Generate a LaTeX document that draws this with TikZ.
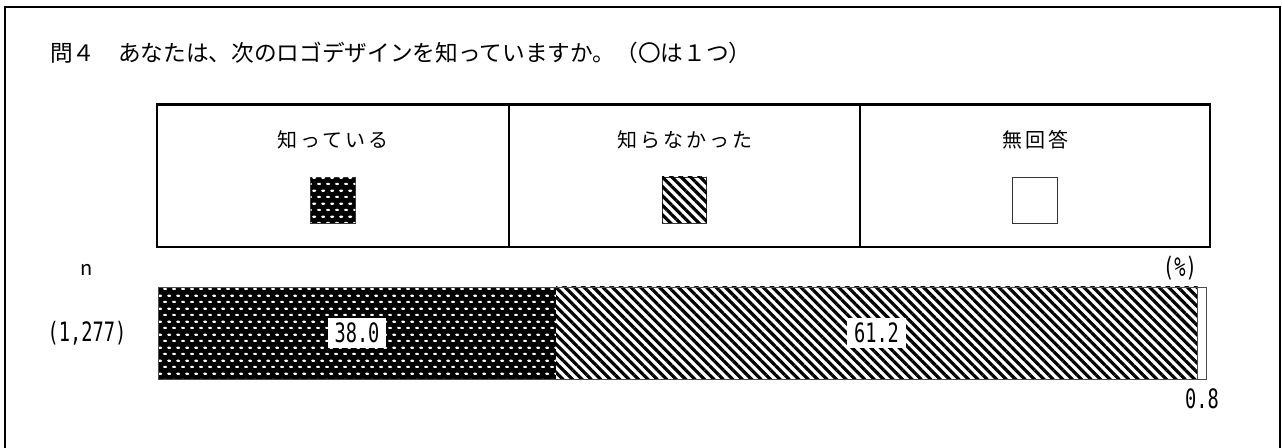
\documentclass[tikz,border=0pt]{standalone}
\usepackage{fontspec}
\setmainfont{Noto Sans CJK JP}
\newfontfamily\legfont[LetterSpace=15]{Noto Sans CJK JP}
\newfontfamily\numfont[FakeStretch=0.7]{DejaVu Sans Mono}
\usetikzlibrary{patterns,patterns.meta}

\tikzdeclarepattern{
  name=weave,
  type=uncolored,
  bottom left={(0pt,0pt)},
  top right={(6.8pt,9.8pt)},
  tile size={(6.8pt,9.8pt)},
  code={
    \draw[line width=1.7pt, line cap=round] (0.9pt,2.45pt) -- (2.5pt,2.45pt);
    \draw[line width=1.7pt, line cap=round] (4.3pt,7.35pt) -- (5.9pt,7.35pt);
  }
}

\tikzset{
  known/.style={fill=black, postaction={pattern=weave, pattern color=white}},
  unknown/.style={fill=white, postaction={pattern={Lines[angle=-45,distance=5pt,line width=2.4pt]}}},
  noans/.style={fill=white},
}

\begin{document}
\begin{tikzpicture}[x=0.75pt,y=-0.75pt,
  frame/.style={line width=2.2pt},
  cell/.style={line width=1.9pt},
  swatch/.style={draw=black!80, line width=0.6pt, minimum width=33.5pt, minimum height=34.5pt, inner sep=0pt},
  lbl/.style={font=\legfont\fontsize{15pt}{18pt}\selectfont},
  num/.style={font=\numfont\fontsize{20pt}{24pt}\selectfont, inner sep=2pt},
  val/.style={num, fill=white, inner xsep=5pt, inner ysep=3.5pt}]
\useasboundingbox (0,0) rectangle (1282,448);
% outer frame
\draw[frame] (5,450) -- (5,7) -- (1280,7) -- (1280,450);
\node[anchor=west, inner sep=0pt, font=\fontsize{17pt}{21pt}\selectfont] (title) at (50,53)
  {問４　あなたは、次のロゴデザインを知っていますか。（〇は１つ）};

% legend
\draw[cell] (157,104.5) rectangle (1210,247);
\draw[cell] (509,104.5) -- (509,247);
\draw[cell] (860,104.5) -- (860,247);
\foreach \cx/\txt/\pat [count=\i] in {333/知っている/known, 684.5/知らなかった/unknown, 1035/無回答/noans}{
  \node[lbl] (lab\i) at (\cx,140) {\txt};
  \node[swatch, \pat] (sw\i) at (\cx,200) {};
}

% bar
\node[font=\fontsize{15pt}{18pt}\selectfont] (n) at (87,270) {n};
\node[num] (pct) at (1180,268) {(\%)};
\node[num] (total) at (87,333) {(1,277)};
\path[known] (158,287) rectangle (556,379);
\path[unknown] (556,287) rectangle (1197.6,379);
\draw[black!70, line width=0.6pt] (158,287) rectangle (1206,379);
\draw[black!70, line width=0.6pt] (1197.6,287) -- (1197.6,379);
\node[val] (v1) at (357,333) {38.0};
\node[val] (v2) at (876.5,333) {61.2};
\node[num] (v3) at (1202,399) {0.8};
\end{tikzpicture}
\end{document}
